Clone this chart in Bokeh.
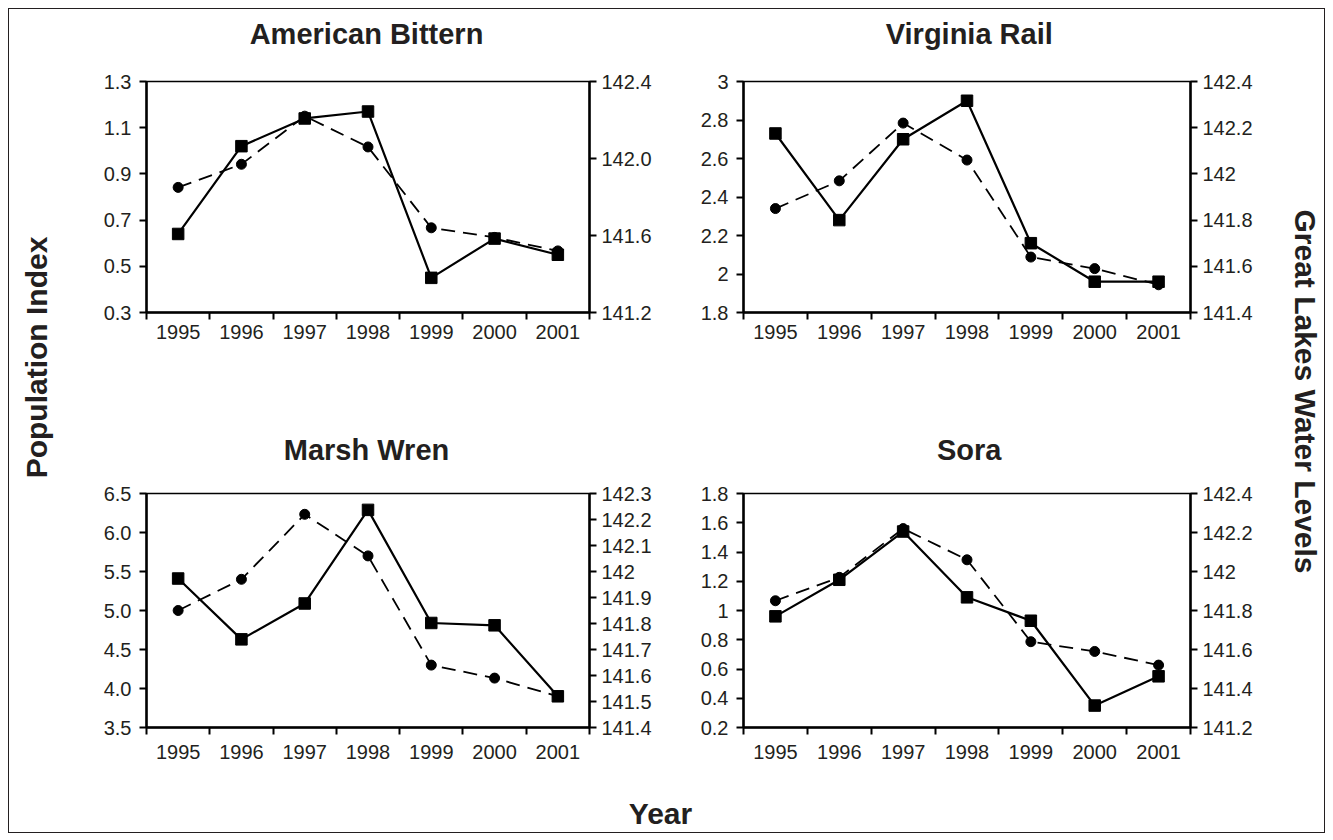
import math
from bokeh.plotting import figure
from bokeh.models import Range1d, LinearAxis, FixedTicker, Label, CustomJSTickFormatter
from bokeh.layouts import row, column
from bokeh.embed import file_html
from bokeh.resources import INLINE

# ---------------- data ----------------
years = ["1995", "1996", "1997", "1998", "1999", "2000", "2001"]
water_levels = [141.85, 141.97, 142.22, 142.06, 141.64, 141.59, 141.52]

bittern = [0.64, 1.02, 1.14, 1.17, 0.45, 0.62, 0.55]
rail = [2.73, 2.28, 2.70, 2.90, 2.16, 1.96, 1.96]
wren = [5.41, 4.63, 5.09, 6.29, 4.84, 4.81, 3.90]
sora = [0.96, 1.21, 1.54, 1.09, 0.93, 0.35, 0.55]

bittern_ticks = [0.3, 0.5, 0.7, 0.9, 1.1, 1.3]
bittern_labels = ["0.3", "0.5", "0.7", "0.9", "1.1", "1.3"]
bittern_wl_ticks = [141.2, 141.6, 142.0, 142.4]
bittern_wl_labels = ["141.2", "141.6", "142.0", "142.4"]

rail_ticks = [1.8, 2.0, 2.2, 2.4, 2.6, 2.8, 3.0]
rail_labels = ["1.8", "2", "2.2", "2.4", "2.6", "2.8", "3"]
rail_wl_ticks = [141.4, 141.6, 141.8, 142.0, 142.2, 142.4]
rail_wl_labels = ["141.4", "141.6", "141.8", "142", "142.2", "142.4"]

wren_ticks = [3.5, 4.0, 4.5, 5.0, 5.5, 6.0, 6.5]
wren_labels = ["3.5", "4.0", "4.5", "5.0", "5.5", "6.0", "6.5"]
wren_wl_ticks = [141.4, 141.5, 141.6, 141.7, 141.8, 141.9, 142.0, 142.1, 142.2, 142.3]
wren_wl_labels = ["141.4", "141.5", "141.6", "141.7", "141.8", "141.9", "142", "142.1", "142.2", "142.3"]

sora_ticks = [0.2, 0.4, 0.6, 0.8, 1.0, 1.2, 1.4, 1.6, 1.8]
sora_labels = ["0.2", "0.4", "0.6", "0.8", "1", "1.2", "1.4", "1.6", "1.8"]
sora_wl_ticks = [141.2, 141.4, 141.6, 141.8, 142.0, 142.2, 142.4]
sora_wl_labels = ["141.2", "141.4", "141.6", "141.8", "142", "142.2", "142.4"]

# ---------------- style ----------------
FONT = "Liberation Sans"
TXT = "#231f20"
TICK_FS = "20px"
TITLE_FS = "29px"
AXLAB_FS = "30px"

JS = """
let best = 0, d = Infinity;
for (let i = 0; i < tv.length; i++) {
  const e = Math.abs(tv[i] - tick);
  if (e < d) { d = e; best = i; }
}
return tl[best];
"""


def fmt(tv, tl):
    return CustomJSTickFormatter(args=dict(tv=list(tv), tl=list(tl)), code=JS)


def style_y_axis(ax, standoff):
    ax.axis_line_width = 2.5
    ax.axis_line_color = "black"
    ax.major_tick_line_width = 2
    ax.major_tick_line_color = "black"
    ax.major_tick_out = 7
    ax.major_tick_in = 0
    ax.minor_tick_line_color = None
    ax.major_label_standoff = standoff
    ax.major_label_text_font = FONT
    ax.major_label_text_font_size = TICK_FS
    ax.major_label_text_color = TXT


def panel(vals, lt, ll, rt, rl, width, height, mbl, mbr, mbt, mbb, x_standoff):
    n = len(years)
    xs = [i + 0.5 for i in range(n)]
    p = figure(width=width, height=height,
               x_range=Range1d(0, n), y_range=Range1d(lt[0], lt[-1]),
               output_backend="svg", toolbar_location=None,
               min_border_left=mbl, min_border_right=mbr,
               min_border_top=mbt, min_border_bottom=mbb)
    p.grid.visible = False
    p.outline_line_color = "black"
    p.outline_line_width = 1.5
    p.background_fill_color = "white"
    p.border_fill_color = "white"

    # x axis: labels centred in categories, ticks on category boundaries
    xa = p.xaxis[0]
    xa.ticker = FixedTicker(ticks=xs, minor_ticks=list(range(n + 1)))
    xa.formatter = fmt(xs, years)
    xa.axis_line_width = 2.5
    xa.axis_line_color = "black"
    xa.major_tick_line_color = None
    xa.major_tick_out = 7
    xa.major_tick_in = 0
    xa.minor_tick_line_color = "black"
    xa.minor_tick_line_width = 2
    xa.minor_tick_out = 7
    xa.minor_tick_in = 0
    xa.major_label_standoff = x_standoff
    xa.major_label_text_font = FONT
    xa.major_label_text_font_size = TICK_FS
    xa.major_label_text_color = TXT

    ya = p.yaxis[0]
    ya.ticker = FixedTicker(ticks=lt)
    ya.formatter = fmt(lt, ll)
    style_y_axis(ya, 8)

    p.extra_y_ranges = {"wl": Range1d(rt[0], rt[-1])}
    ra = LinearAxis(y_range_name="wl", ticker=FixedTicker(ticks=rt), formatter=fmt(rt, rl))
    style_y_axis(ra, 5)
    p.add_layout(ra, "right")

    p.line(xs, vals, line_width=2.2, line_color="black")
    p.scatter(xs, vals, marker="square", size=11.5, fill_color="black", line_color="black")
    p.line(xs, water_levels, y_range_name="wl", line_width=1.8, line_color="black",
           line_dash="14 8")
    p.scatter(xs, water_levels, y_range_name="wl", marker="circle", size=10,
              fill_color="black", line_color="black")
    return p


def label_fig(w, h, text, x, y, angle=0.0, fs=TITLE_FS):
    f = figure(width=w, height=h, x_range=Range1d(0, w), y_range=Range1d(h, 0),
               output_backend="svg", toolbar_location=None, min_border=0,
               x_axis_location=None, y_axis_location=None)
    f.outline_line_color = None
    f.grid.visible = False
    f.add_layout(Label(x=x, y=y, text=text, angle=angle, text_align="center",
                       text_baseline="middle", text_font=FONT, text_font_size=fs,
                       text_font_style="bold", text_color=TXT))
    return f


# left column figures: 596 wide, frame 75..518 ; right column: 592 wide, frame 76..523
# top row: title strip 50 + plot 354 (frame rows 22..253 of plot)
t1 = label_fig(596, 50, "American Bittern", 296, 24)
p1 = panel(bittern, bittern_ticks, bittern_labels, bittern_wl_ticks, bittern_wl_labels,
           width=596, height=354, mbl=75, mbr=78, mbt=22, mbb=101, x_standoff=5)
t2 = label_fig(592, 50, "Virginia Rail", 299, 24)
p2 = panel(rail, rail_ticks, rail_labels, rail_wl_ticks, rail_wl_labels,
           width=592, height=354, mbl=76, mbr=69, mbt=22, mbb=101, x_standoff=5)
# bottom row: title strip 62 + plot 292 (frame rows 18..252 of plot)
t3 = label_fig(596, 62, "Marsh Wren", 296, 36)
p3 = panel(wren, wren_ticks, wren_labels, wren_wl_ticks, wren_wl_labels,
           width=596, height=292, mbl=75, mbr=78, mbt=18, mbb=40, x_standoff=10)
t4 = label_fig(592, 62, "Sora", 299, 36)
p4 = panel(sora, sora_ticks, sora_labels, sora_wl_ticks, sora_wl_labels,
           width=592, height=292, mbl=76, mbr=69, mbt=18, mbb=40, x_standoff=10)

left_lab = label_fig(62, 758, "Population Index", 27, 348, math.pi / 2, AXLAB_FS)
right_lab = label_fig(65, 758, "Great Lakes Water Levels", 46, 382, -math.pi / 2, AXLAB_FS)
year_lab = label_fig(1315, 65, "Year", 651, 46, 0.0, AXLAB_FS)

grid = column(row(column(t1, p1), column(t2, p2)),
              row(column(t3, p3), column(t4, p4)))
root = column(row(left_lab, grid, right_lab), year_lab,
              styles={"border": "1px solid #231f20"}, margin=(8, 8, 8, 8))

open("out.html", "w").write(file_html(root, INLINE))
